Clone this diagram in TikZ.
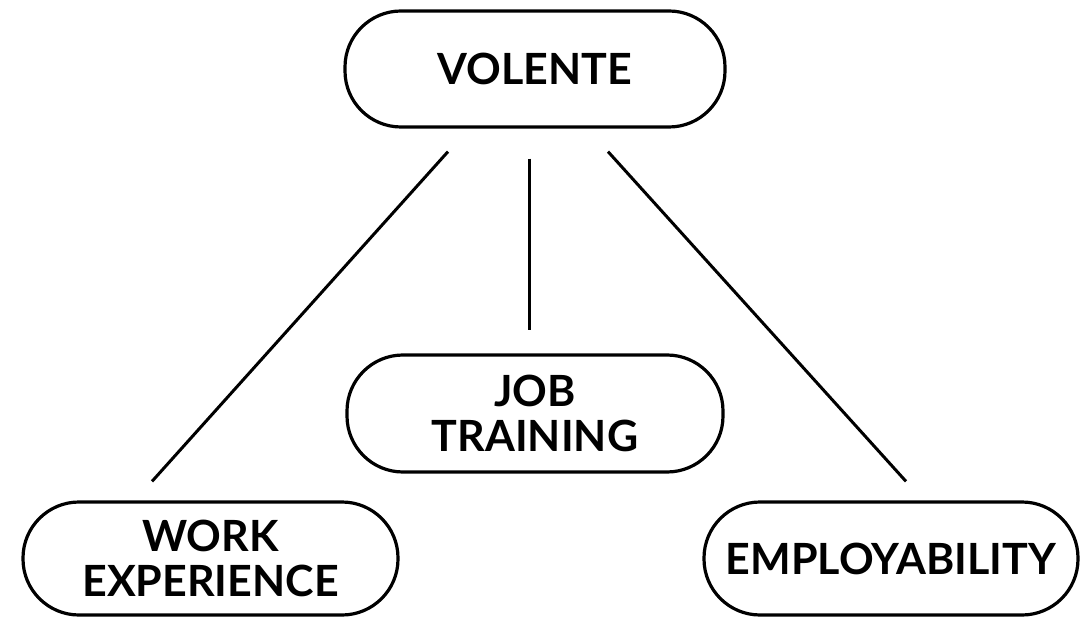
\documentclass[tikz,border=0pt]{standalone}
\usepackage{fontspec}
\setmainfont{Lato}
\usetikzlibrary{calc}
\tikzset{
  pill/.style={draw=black, line width=3.2pt, rounded corners=56pt, fill=white,
    minimum width=376pt, minimum height=115pt, align=center, inner sep=0pt,
    font=\fontsize{43}{45}\selectfont\bfseries},
  link/.style={draw=black, line width=3pt}
}
\begin{document}
\begin{tikzpicture}[x=1pt,y=-1pt]
\useasboundingbox (0,0) rectangle (1081,617);
\node[pill, minimum width=380pt, minimum height=116pt] (vol) at (535,69) {VOLENTE};
\node[pill, minimum height=117pt] (job) at (535,413.5) {JOB\\TRAINING};
\node[pill, minimum width=375pt, minimum height=113pt] (work) at (210.5,558.5) {WORK\\EXPERIENCE};
\node[pill, minimum width=374pt, minimum height=113pt] (emp) at (891,558.5) {EMPLOYABILITY};
\coordinate (l1) at ($(vol.south)+(-87,23)$);
\coordinate (l2) at ($(work.north)+(-58.5,-19)$);
\coordinate (m1) at ($(vol.south)+(-6,30)$);
\coordinate (m2) at ($(job.north)+(-6,-23)$);
\coordinate (r1) at ($(vol.south)+(73,23)$);
\coordinate (r2) at ($(emp.north)+(15,-19)$);
\draw[link] (l1) -- (l2);
\draw[link] (m1) -- (m2);
\draw[link] (r1) -- (r2);
\end{tikzpicture}
\end{document}
